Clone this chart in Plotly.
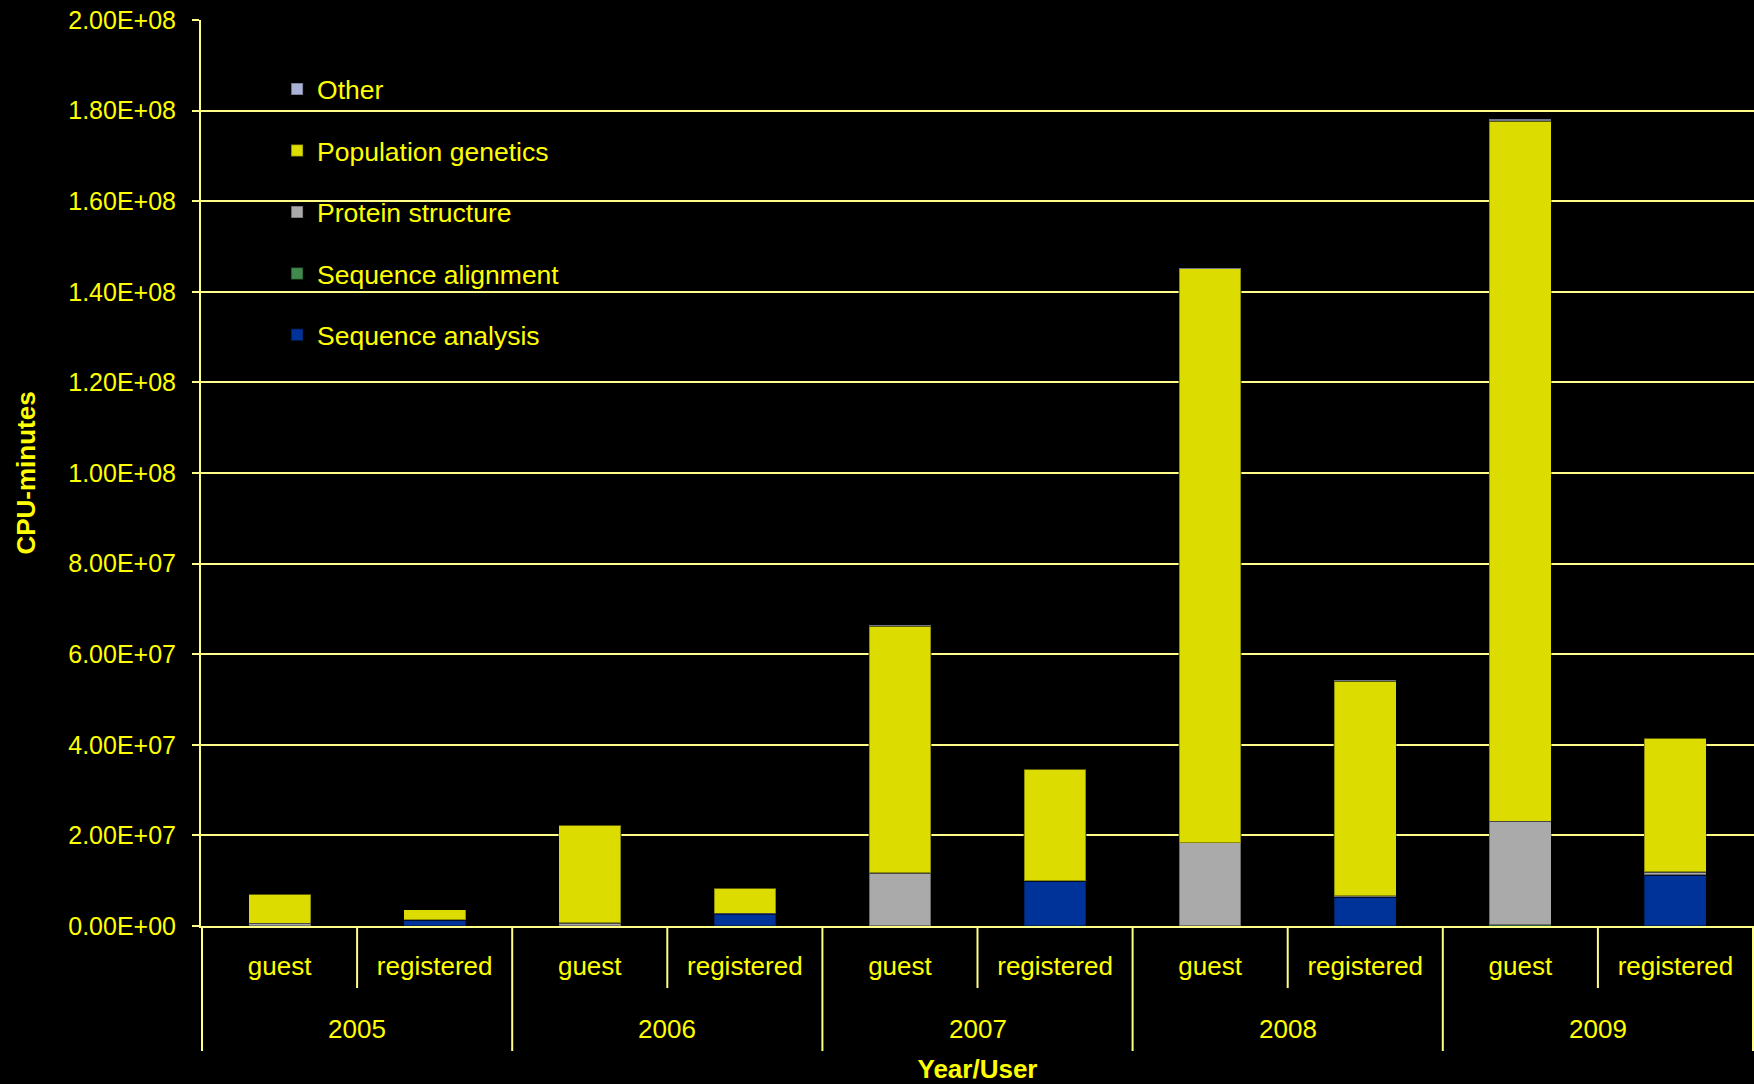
import plotly.graph_objects as go

# ---------------- data ----------------
years = ["2005", "2006", "2007", "2008", "2009"]
users = ["guest", "registered"]

# values in CPU-minutes, order: 2005 guest, 2005 registered, 2006 guest, ...
seq_analysis = [0.00e6, 1.35e6, 0.00e6, 2.70e6, 0.00e6, 9.90e6, 0.00e6, 6.35e6, 0.00e6, 11.2e6]
seq_alignment = [0.05e6, 0.02e6, 0.05e6, 0.02e6, 0.10e6, 0.05e6, 0.10e6, 0.05e6, 0.30e6, 0.05e6]
protein_structure = [0.55e6, 0.05e6, 0.60e6, 0.05e6, 11.65e6, 0.05e6, 18.3e6, 0.30e6, 22.8e6, 0.65e6]
population_genetics = [6.40e6, 2.20e6, 21.7e6, 5.60e6, 54.5e6, 24.6e6, 126.7e6, 47.4e6, 154.6e6, 29.6e6]
other = [0.00e6, 0.00e6, 0.00e6, 0.00e6, 0.10e6, 0.10e6, 0.20e6, 0.30e6, 0.45e6, 0.10e6]

series_names = ["Sequence analysis", "Sequence alignment", "Protein structure",
                "Population genetics", "Other"]
series_values = [seq_analysis, seq_alignment, protein_structure, population_genetics, other]
series_colors = ["#003399", "#3F8A4C", "#AAAAAA", "#DCDC00", "#AAB2D6"]

y_ticks = [i * 2e7 for i in range(11)]
y_ticktext = [f"{v:.2E}" for v in y_ticks]

# ---------------- build ----------------
cat_keys = [f"{y} {u}" for y in years for u in users]
cat_text = [u for y in years for u in users]

FONT = "Liberation Sans, Arial, sans-serif"
TXT = "#FFFF00"
LINE = "#FFFF88"

fig = go.Figure()
for i, (name, vals, col) in enumerate(zip(series_names, series_values, series_colors)):
    fig.add_trace(go.Bar(
        x=cat_keys, y=vals, name=name, legendgroup=name,
        legendrank=1000 - i,
        marker=dict(color=col, line=dict(color="rgba(0,0,0,0.35)", width=1.5)),
    ))

shapes = []
n_per = len(users)
n_cat = len(cat_keys)
for b in range(n_cat + 1):
    xb = b - 0.5
    long_div = (b % n_per == 0)
    shapes.append(dict(type="line", xref="x", yref="paper", x0=xb, x1=xb,
                       y0=0, y1=-0.138 if long_div else -0.0685,
                       line=dict(color=LINE, width=2)))

annotations = []
for k, yr in enumerate(years):
    annotations.append(dict(text=yr, xref="x", yref="paper",
                            x=k * n_per + (n_per - 1) / 2, y=-0.1135,
                            xanchor="center", yanchor="middle", showarrow=False,
                            font=dict(family=FONT, size=26, color=TXT)))

fig.update_layout(
    width=1754, height=1084,
    margin=dict(l=201, r=0, t=20, b=158),
    paper_bgcolor="#000000", plot_bgcolor="#000000",
    barmode="stack", bargap=0.6,
    font=dict(family=FONT, color=TXT),
    showlegend=True,
    legend=dict(x=0.049, y=0.95, xanchor="left", yanchor="top",
                traceorder="grouped", tracegroupgap=24,
                bgcolor="rgba(0,0,0,0)",
                font=dict(family=FONT, size=26.5, color=TXT)),
    shapes=shapes,
    annotations=annotations,
    xaxis=dict(
        type="category", tickvals=cat_keys, ticktext=cat_text,
        showgrid=False, showline=True, linecolor=LINE, linewidth=2,
        ticks="outside", ticklen=16, tickwidth=1, tickcolor="rgba(0,0,0,0)",
        tickfont=dict(family=FONT, size=26, color=TXT),
        title=dict(text="<b>Year/User</b>", standoff=84,
                   font=dict(family=FONT, size=26, color=TXT)),
        zeroline=False,
    ),
    yaxis=dict(
        range=[0, 2e8], tickvals=y_ticks, ticktext=y_ticktext,
        showgrid=True, gridcolor=LINE, gridwidth=2,
        showline=True, linecolor=LINE, linewidth=2,
        ticks="outside", ticklen=7, tickwidth=2, tickcolor=LINE,
        ticklabelstandoff=11,
        tickfont=dict(family=FONT, size=25, color=TXT),
        zeroline=False,
        title=dict(text="<b>CPU-minutes</b>", standoff=25,
                   font=dict(family=FONT, size=26, color=TXT)),
    ),
)

fig.write_html("out.html")
